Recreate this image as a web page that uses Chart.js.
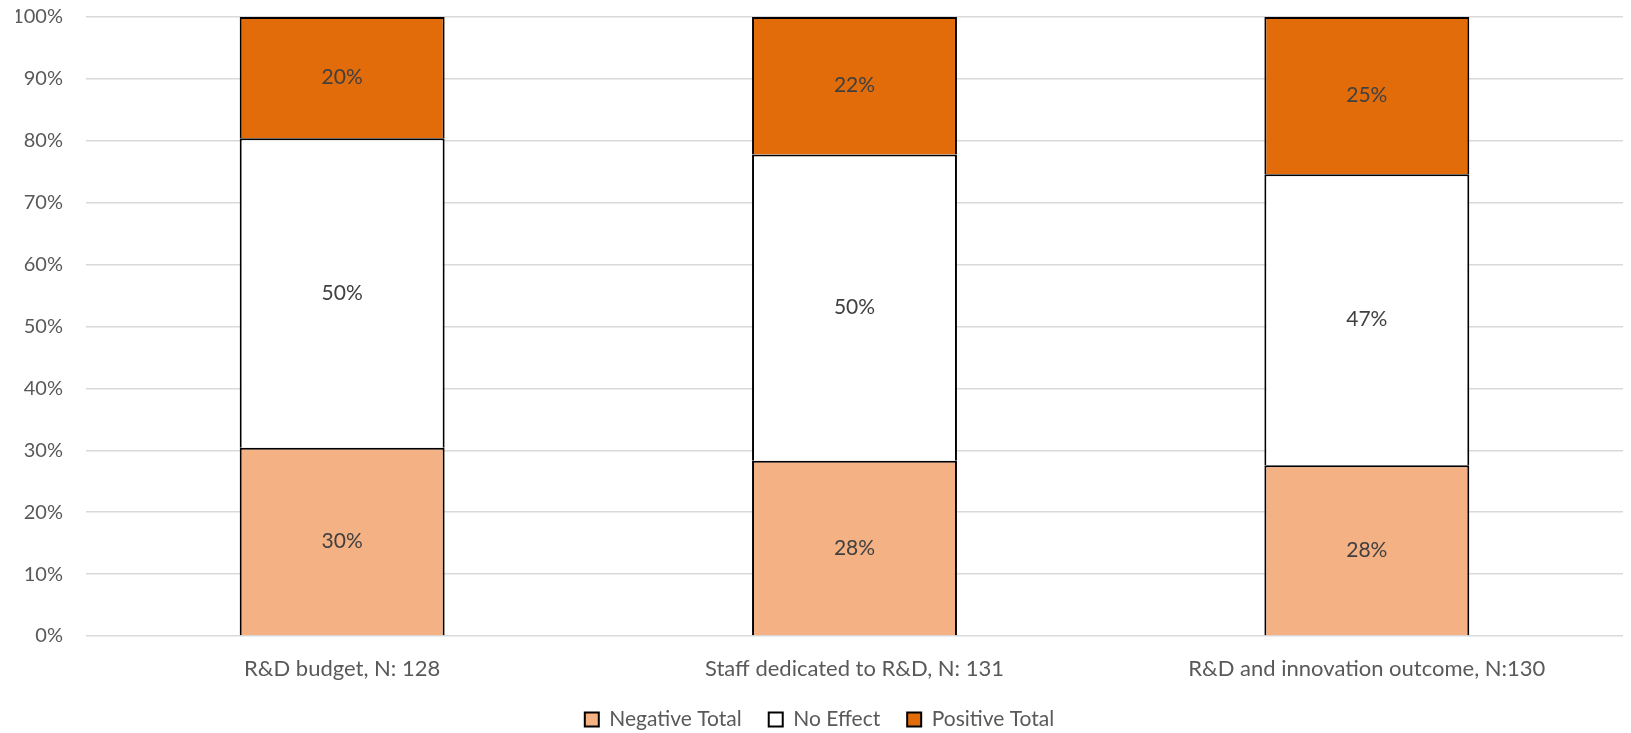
<!DOCTYPE html>
<html>
<head>
<meta charset="utf-8">
<script src="https://cdn.jsdelivr.net/npm/chart.js@4/dist/chart.umd.min.js"></script>
<style>
  html, body { margin: 0; padding: 0; background: #fff; }
  #wrap { width: 1631px; height: 733px; position: relative; }
</style>
</head>
<body>
<div id="wrap"><canvas id="chart" width="1631" height="733"></canvas></div>
<script>
// Categories and series (percent of respondents)
const categories = ['R&D budget, N: 128', 'Staff dedicated to R&D, N: 131', 'R&D and innovation outcome, N:130'];
const negativeTotal = [30.4, 28.3, 27.6];
const noEffect = [50.0, 49.5, 47.0];
const positiveTotal = [19.6, 22.2, 25.4];
const yTicks = [0, 10, 20, 30, 40, 50, 60, 70, 80, 90, 100];

const FONT = 'Lato, "Open Sans", sans-serif';
const TEXT = '#595959';

// Simple in-bar value labels
const barLabels = {
  id: 'barLabels',
  afterDatasetsDraw(chart) {
    const ctx = chart.ctx;
    ctx.save();
    ctx.font = '21px ' + FONT;
    ctx.fillStyle = '#404040';
    ctx.textAlign = 'center';
    ctx.textBaseline = 'middle';
    chart.data.datasets.forEach((ds, i) => {
      chart.getDatasetMeta(i).data.forEach((bar, j) => {
        const mid = (bar.y + bar.base) / 2;
        ctx.fillText(Math.round(ds.data[j]) + '%', bar.x, mid);
      });
    });
    ctx.restore();
  }
};

const ctx = document.getElementById('chart').getContext('2d');
new Chart(ctx, {
  type: 'bar',
  data: {
    labels: categories,
    datasets: [
      { label: 'Negative Total', data: negativeTotal, backgroundColor: '#F4B183', borderColor: '#000', borderWidth: 2 },
      { label: 'No Effect', data: noEffect, backgroundColor: '#FFFFFF', borderColor: '#000', borderWidth: 2 },
      { label: 'Positive Total', data: positiveTotal, backgroundColor: '#E36C0A', borderColor: '#000', borderWidth: 2 }
    ]
  },
  options: {
    responsive: false,
    animation: false,
    layout: { padding: { top: 17, right: 8, left: 16, bottom: -7 } },
    datasets: { bar: { categoryPercentage: 1, barPercentage: 0.4 } },
    scales: {
      x: {
        stacked: true,
        afterFit(scale) { scale.height = 46; },
        grid: { display: false, drawTicks: false },
        border: { display: false },
        ticks: { color: TEXT, font: { family: FONT, size: 22 }, padding: 20 }
      },
      y: {
        stacked: true,
        min: 0,
        max: 100,
        afterFit(scale) {
          scale.width = 70;
          scale.paddingTop = 0;
          scale.paddingBottom = 0;
        },
        afterBuildTicks(scale) { scale.ticks = yTicks.map(v => ({ value: v })); },
        grid: { color: '#D9D9D9', lineWidth: 1.5, drawTicks: false },
        border: { display: false },
        ticks: { color: TEXT, font: { family: FONT, size: 20 }, padding: 23, callback: v => v + '%' }
      }
    },
    plugins: {
      legend: {
        position: 'bottom',
        labels: {
          color: TEXT,
          font: { family: FONT, size: 21 },
          boxWidth: 14,
          boxHeight: 14,
          padding: 27
        }
      },
      tooltip: { enabled: false }
    }
  },
  plugins: [barLabels]
});
</script>
</body>
</html>
